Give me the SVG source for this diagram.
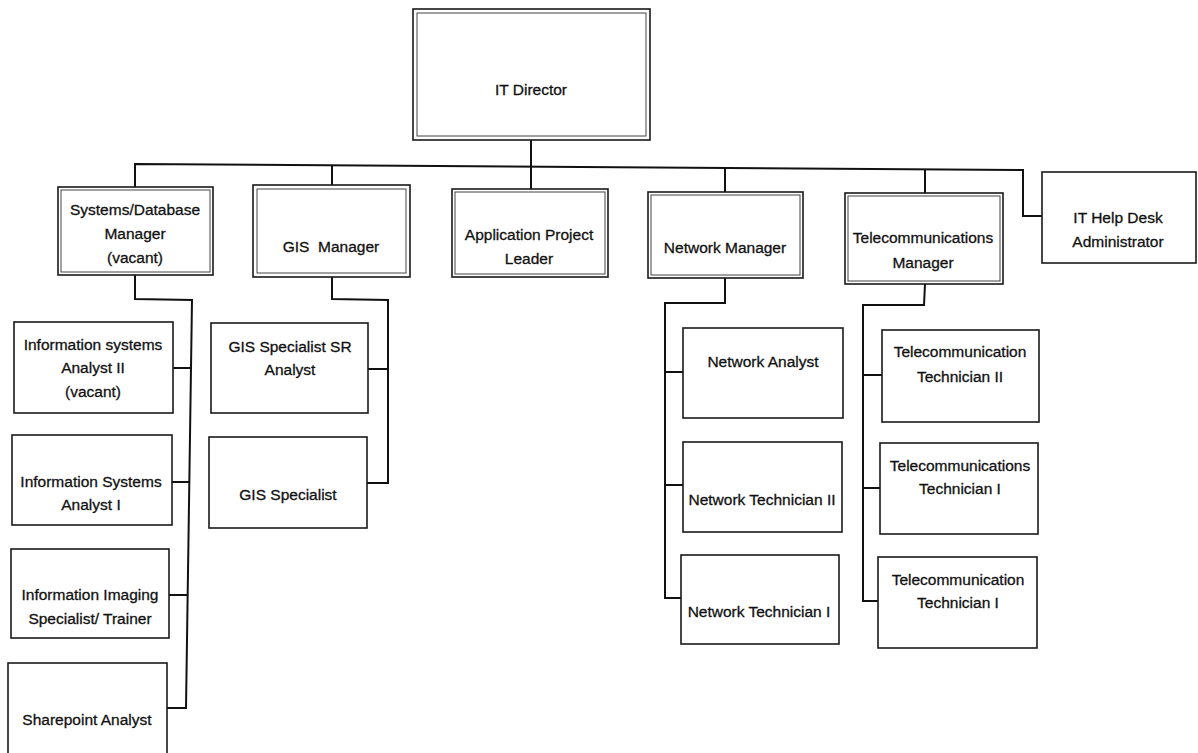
<svg xmlns="http://www.w3.org/2000/svg" width="1198" height="753" viewBox="0 0 1198 753">
<style>
.box{fill:#fff;stroke:#1a1a1a;stroke-width:1.6}
.inner{fill:none;stroke:#444;stroke-width:1}
.t{font-family:"Liberation Sans",Arial,sans-serif;font-size:15.5px;fill:#111;stroke:#111;stroke-width:0.3;text-anchor:middle;white-space:pre}
.c{fill:none;stroke:#111;stroke-width:2;stroke-linejoin:miter}
</style>
<rect width="1198" height="753" fill="#fff"/>
<g id="connectors">
<line class="c" x1="531" y1="140" x2="531" y2="189"/>
<polyline class="c" points="135,187 135,164 1023,170 1023,216 1042,216"/>
<line class="c" x1="332" y1="165" x2="332" y2="185"/>
<line class="c" x1="725" y1="167" x2="725" y2="192"/>
<line class="c" x1="925" y1="169" x2="925" y2="193"/>
<polyline class="c" points="135,275 135,299 192,300 186,708 167,708"/>
<line class="c" x1="173" y1="368" x2="191" y2="368"/>
<line class="c" x1="172" y1="482" x2="190" y2="482"/>
<line class="c" x1="169" y1="595" x2="188" y2="595"/>
<polyline class="c" points="332,277 332,299 388,300 388,483 367,483"/>
<line class="c" x1="368" y1="369" x2="388" y2="369"/>
<polyline class="c" points="725,278 725,303 665,303 665,598 681,598"/>
<line class="c" x1="665" y1="372" x2="683" y2="372"/>
<line class="c" x1="665" y1="485" x2="683" y2="485"/>
<polyline class="c" points="925,284 924,305 863,305 863,601 878,601"/>
<line class="c" x1="863" y1="375" x2="882" y2="375"/>
<line class="c" x1="863" y1="488" x2="880" y2="488"/>
</g>
<g id="it-director">
<rect class="box" x="413" y="9" width="237" height="131"/>
<rect class="inner" x="417" y="13" width="229" height="123"/>
<text class="t" x="531" y="95">IT Director</text>
</g>
<g id="systems-db-manager">
<rect class="box" x="58" y="187" width="155" height="88"/>
<rect class="inner" x="61" y="190" width="149" height="82"/>
<text class="t" x="135" y="215">Systems/Database</text>
<text class="t" x="135" y="239">Manager</text>
<text class="t" x="135" y="263">(vacant)</text>
</g>
<g id="gis-manager">
<rect class="box" x="253" y="185" width="157" height="92"/>
<rect class="inner" x="257" y="189" width="149" height="84"/>
<text class="t" x="331" y="252">GIS  Manager</text>
</g>
<g id="app-project-leader">
<rect class="box" x="452" y="189" width="156" height="88"/>
<rect class="inner" x="455" y="192" width="150" height="82"/>
<text class="t" x="529" y="240">Application Project</text>
<text class="t" x="529" y="264">Leader</text>
</g>
<g id="network-manager">
<rect class="box" x="648" y="192" width="155" height="86"/>
<rect class="inner" x="651" y="195" width="149" height="80"/>
<text class="t" x="725" y="253">Network Manager</text>
</g>
<g id="telecom-manager">
<rect class="box" x="845" y="193" width="158" height="91"/>
<rect class="inner" x="848" y="196" width="152" height="85"/>
<text class="t" x="923" y="243">Telecommunications</text>
<text class="t" x="923" y="268">Manager</text>
</g>
<g id="help-desk">
<rect class="box" x="1042" y="172" width="154" height="91"/>
<text class="t" x="1118" y="223">IT Help Desk</text>
<text class="t" x="1118" y="247">Administrator</text>
</g>
<g id="isa2">
<rect class="box" x="14" y="322" width="159" height="91"/>
<text class="t" x="93" y="350">Information systems</text>
<text class="t" x="93" y="373">Analyst II</text>
<text class="t" x="93" y="397">(vacant)</text>
</g>
<g id="isa1">
<rect class="box" x="12" y="435" width="160" height="90"/>
<text class="t" x="91" y="487">Information Systems</text>
<text class="t" x="91" y="510">Analyst I</text>
</g>
<g id="imaging">
<rect class="box" x="11" y="549" width="158" height="89"/>
<text class="t" x="90" y="600">Information Imaging</text>
<text class="t" x="90" y="624">Specialist/ Trainer</text>
</g>
<g id="sharepoint">
<rect class="box" x="8" y="663" width="159" height="95"/>
<text class="t" x="87" y="725">Sharepoint Analyst</text>
</g>
<g id="gis-sr">
<rect class="box" x="211" y="323" width="157" height="90"/>
<text class="t" x="290" y="352">GIS Specialist SR</text>
<text class="t" x="290" y="375">Analyst</text>
</g>
<g id="gis-spec">
<rect class="box" x="209" y="437" width="158" height="91"/>
<text class="t" x="288" y="500">GIS Specialist</text>
</g>
<g id="net-analyst">
<rect class="box" x="683" y="328" width="160" height="90"/>
<text class="t" x="763" y="367">Network Analyst</text>
</g>
<g id="net-tech2">
<rect class="box" x="683" y="442" width="159" height="90"/>
<text class="t" x="762" y="505">Network Technician II</text>
</g>
<g id="net-tech1">
<rect class="box" x="681" y="555" width="158" height="89"/>
<text class="t" x="759" y="617">Network Technician I</text>
</g>
<g id="tel-tech2">
<rect class="box" x="882" y="330" width="157" height="92"/>
<text class="t" x="960" y="357">Telecommunication</text>
<text class="t" x="960" y="382">Technician II</text>
</g>
<g id="tel-tech1a">
<rect class="box" x="880" y="443" width="158" height="91"/>
<text class="t" x="960" y="471">Telecommunications</text>
<text class="t" x="960" y="494">Technician I</text>
</g>
<g id="tel-tech1b">
<rect class="box" x="878" y="557" width="159" height="91"/>
<text class="t" x="958" y="585">Telecommunication</text>
<text class="t" x="958" y="608">Technician I</text>
</g>
</svg>
